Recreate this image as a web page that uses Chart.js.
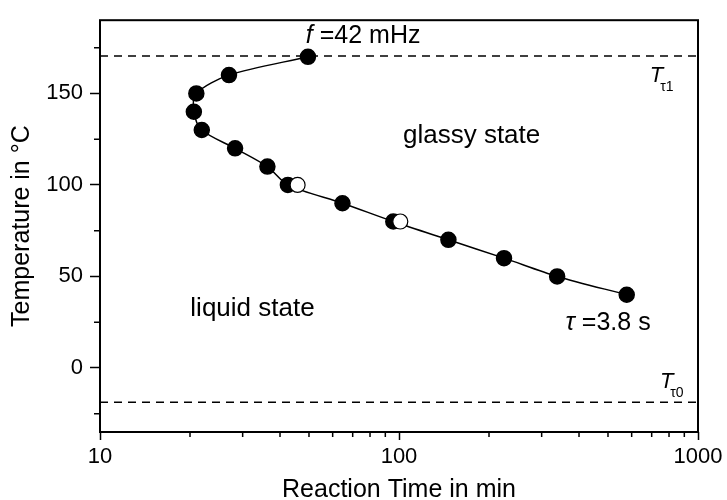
<!DOCTYPE html>
<html>
<head>
<meta charset="utf-8">
<script src="https://cdn.jsdelivr.net/npm/chart.js@4"></script>
<style>
  html, body { margin: 0; padding: 0; background: #fff; }
  #wrap { width: 727px; height: 500px; }
</style>
</head>
<body>
<div id="wrap"><canvas id="c" width="727" height="500"></canvas></div>
<script>
// Dữ liệu
const tempC      = [170, 160, 150, 140, 130, 120, 110, 100, 90, 80, 70, 60, 50, 40];
const timeMin    = [49.6, 27.0, 21.0, 20.6, 21.9, 28.3, 36.3, 42.5, 64.7, 95.7, 146.3, 224.5, 338, 577.6];
const openTempC  = [100, 80];
const openTime   = [45.8, 101];
const tTau1      = 170.5;
const tTau0      = -18.7;
const xMajorTicks = [10, 100, 1000];
const xMinorTicks = [20, 30, 40, 50, 60, 70, 80, 90, 200, 300, 400, 500, 600, 700, 800, 900];
const yMajorTicks = [0, 50, 100, 150];
const yMinorTicks = [-25, 25, 75, 125, 175];

const FONT = "'Liberation Sans', Arial, sans-serif";

const toPts = (xs, ys) => xs.map((x, i) => ({ x: x, y: ys[i] }));

// Chú thích (toạ độ dữ liệu)
const notes = [
  { x: 48.8,  y: 177.6, size: 25, parts: [['f', 'italic'], [' =42 mHz', '']] },
  { x: 103.1, y: 122.7, size: 26, parts: [['glassy state', '']] },
  { x: 20.05, y: 28.5,  size: 26, parts: [['liquid state', '']] },
  { x: 360.6, y: 21.0,  size: 25, parts: [['\u03c4', 'italic'], [' =3.8 s', '']] },
  { x: 690,   y: 156.1, sub: '\u03c41' },
  { x: 745.6, y: -10.8, sub: '\u03c40' }
];

const framePlugin = {
  id: 'frame',
  afterDraw(chart) {
    const { ctx, chartArea: a, scales } = chart;
    ctx.save();
    ctx.strokeStyle = '#000';
    ctx.lineWidth = 2;
    ctx.strokeRect(a.left, a.top, a.right - a.left, a.bottom - a.top);
    // vạch chia phụ
    ctx.lineWidth = 1.5;
    ctx.beginPath();
    xMinorTicks.forEach(v => {
      const px = scales.x.getPixelForValue(v);
      ctx.moveTo(px, a.bottom);
      ctx.lineTo(px, a.bottom + 5);
    });
    yMinorTicks.forEach(v => {
      const py = scales.y.getPixelForValue(v);
      ctx.moveTo(a.left, py);
      ctx.lineTo(a.left - 6, py);
    });
    ctx.stroke();

    // chữ
    ctx.fillStyle = '#000';
    ctx.textBaseline = 'alphabetic';
    notes.forEach(n => {
      let px = scales.x.getPixelForValue(n.x);
      const py = scales.y.getPixelForValue(n.y);
      if (n.sub) {
        ctx.font = 'italic 22px ' + FONT;
        ctx.fillText('T', px, py);
        px += ctx.measureText('T').width;
        ctx.font = '14px ' + FONT;
        ctx.fillText(n.sub, px - 3, py + 9);
      } else {
        n.parts.forEach(p => {
          ctx.font = (p[1] ? p[1] + ' ' : '') + n.size + 'px ' + FONT;
          ctx.fillText(p[0], px, py);
          px += ctx.measureText(p[0]).width;
        });
      }
    });
    ctx.restore();
  }
};

new Chart(document.getElementById('c'), {
  type: 'scatter',
  data: {
    datasets: [
      {
        data: toPts(openTime, openTempC),
        pointRadius: 7.5,
        pointBackgroundColor: '#fff',
        pointBorderColor: '#000',
        pointBorderWidth: 1.2,
        showLine: false,
        order: 0
      },
      {
        data: toPts(timeMin, tempC),
        showLine: true,
        borderColor: '#000',
        borderWidth: 1.5,
        tension: 0.3,
        pointRadius: 7.5,
        pointBackgroundColor: '#000',
        pointBorderColor: '#000',
        order: 1
      },
      {
        data: [{ x: 10, y: tTau1 }, { x: 1000, y: tTau1 }],
        showLine: true,
        borderColor: '#000',
        borderWidth: 1.5,
        borderDash: [8, 6],
        pointRadius: 0,
        order: 2
      },
      {
        data: [{ x: 10, y: tTau0 }, { x: 1000, y: tTau0 }],
        showLine: true,
        borderColor: '#000',
        borderWidth: 1.5,
        borderDash: [8, 6],
        pointRadius: 0,
        order: 2
      }
    ]
  },
  options: {
    responsive: false,
    animation: false,
    layout: { padding: { top: 14, right: 29, left: 0, bottom: 0 } },
    plugins: { legend: { display: false }, tooltip: { enabled: false } },
    scales: {
      x: {
        type: 'logarithmic',
        min: 10,
        max: 1000,
        afterBuildTicks: s => { s.ticks = xMajorTicks.map(v => ({ value: v })); },
        afterFit: s => { s.height = 68; },
        grid: { drawOnChartArea: false, tickLength: 8, tickWidth: 1.5, tickColor: '#000' },
        border: { display: false },
        ticks: {
          color: '#000',
          font: { family: FONT, size: 22 },
          padding: 4,
          maxRotation: 0,
          autoSkip: false,
          callback: v => String(v)
        },
        title: {
          display: true,
          text: 'Reaction Time in min',
          color: '#000',
          font: { family: FONT, size: 25, lineHeight: 1 },
          padding: { top: 0, bottom: -3 }
        }
      },
      y: {
        min: -35,
        max: 190,
        afterBuildTicks: s => { s.ticks = yMajorTicks.map(v => ({ value: v })); },
        afterFit: s => { s.width = 100; },
        grid: { drawOnChartArea: false, tickLength: 10, tickWidth: 1.5, tickColor: '#000' },
        border: { display: false },
        ticks: {
          color: '#000',
          font: { family: FONT, size: 22 },
          padding: 7,
          callback: v => String(v)
        },
        title: {
          display: true,
          text: 'Temperature in \u00b0C',
          color: '#000',
          font: { family: FONT, size: 25, lineHeight: 1 },
          padding: { top: 10, bottom: 0 }
        }
      }
    }
  },
  plugins: [framePlugin]
});
</script>
</body>
</html>
